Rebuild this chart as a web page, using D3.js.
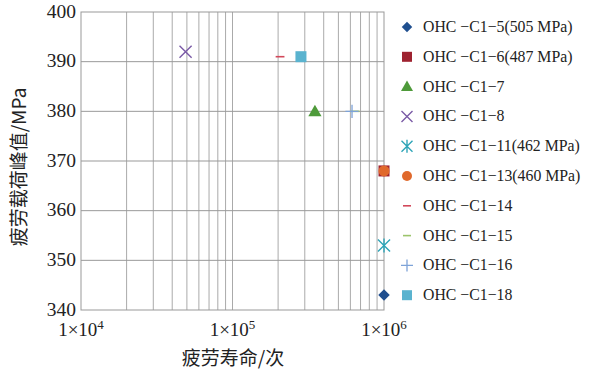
<!DOCTYPE html>
<html>
<head>
<meta charset="utf-8">
<script src="https://cdn.jsdelivr.net/npm/d3@7"></script>
<style>
  body { margin: 0; background: #fff; }
  svg { display: block; }
</style>
</head>
<body>
<svg width="589" height="372"></svg>
<script>
// specimens, fatigue life (cycles) and peak load (MPa)
var names = ["OHC \u2212C1\u22125(505 MPa)", "OHC \u2212C1\u22126(487 MPa)", "OHC \u2212C1\u22127",
             "OHC \u2212C1\u22128", "OHC \u2212C1\u221211(462 MPa)", "OHC \u2212C1\u221213(460 MPa)",
             "OHC \u2212C1\u221214", "OHC \u2212C1\u221215", "OHC \u2212C1\u221216", "OHC \u2212C1\u221218"];
var life = [1.0e6, 1.0e6, 3.5e5, 4.9e4, 1.0e6, 1.0e6, 2.06e5, 6.45e5, 6.15e5, 2.83e5];
var peak = [343, 368, 380, 392, 353, 368, 391, 380, 380, 391];
var shapes = ["diamond", "square", "triangle", "x", "asterisk", "circle", "dash", "dash", "plus", "square"];
var colors = ["#1f4f8f", "#9e2230", "#4e9a3a", "#7a5aa6", "#2ea5b8", "#e0692c", "#d2485a", "#9cc46b", "#7ea3d8", "#5ab3cf"];
var yTicks = [340, 350, 360, 370, 380, 390, 400];
var xTicks = [1e4, 1e5, 1e6];

var svg = d3.select("svg");
var pLeft = 81, pRight = 384, pTop = 12, pBottom = 310;

var x = d3.scaleLog().domain([1e4, 1e6]).range([pLeft, pRight]);
var y = d3.scaleLinear().domain([340, 400]).range([pBottom, pTop]);

var grid = svg.append("g");
var minor = [];
[1e4, 1e5].forEach(function (d) {
    for (var k = 2; k <= 9; k++) minor.push(d * k);
});
grid.selectAll("line.v")
    .data(minor.concat([1e5]))
    .enter().append("line")
    .attr("x1", function (d) { return x(d); })
    .attr("x2", function (d) { return x(d); })
    .attr("y1", pTop).attr("y2", pBottom)
    .attr("stroke", "#aaa").attr("stroke-width", 1);
grid.selectAll("line.h")
    .data(yTicks.slice(1, -1))
    .enter().append("line")
    .attr("x1", pLeft).attr("x2", pRight)
    .attr("y1", function (d) { return y(d); })
    .attr("y2", function (d) { return y(d); })
    .attr("stroke", "#999").attr("stroke-width", 1);
svg.append("rect")
    .attr("x", pLeft).attr("y", pTop)
    .attr("width", pRight - pLeft).attr("height", pBottom - pTop)
    .attr("fill", "none").attr("stroke", "#999").attr("stroke-width", 1);

// y tick labels
svg.selectAll("text.yt")
    .data(yTicks)
    .enter().append("text")
    .attr("x", pLeft - 5)
    .attr("y", function (d) { return y(d) + 5.5; })
    .attr("text-anchor", "end")
    .attr("font-family", "Liberation Serif, serif")
    .attr("font-size", 19.5)
    .attr("fill", "#222")
    .text(function (d) { return d; });

// x tick labels 1×10^n
var xt = svg.selectAll("text.xt")
    .data(xTicks)
    .enter().append("text")
    .attr("x", function (d) { return x(d); })
    .attr("y", 336)
    .attr("text-anchor", "middle")
    .attr("font-family", "Liberation Serif, serif")
    .attr("font-size", 19)
    .attr("fill", "#222");
xt.append("tspan").text("1\u00d710");
xt.append("tspan").attr("dy", -7).attr("font-size", 13)
    .text(function (d) { return Math.round(Math.log10(d)); });

// axis titles
svg.append("text")
    .attr("transform", "translate(26,167) rotate(-90)")
    .attr("text-anchor", "middle")
    .attr("font-family", "Noto Sans CJK SC, Liberation Serif, serif")
    .attr("font-size", 19)
    .attr("fill", "#222")
    .text("疲劳载荷峰值/MPa");
svg.append("text")
    .attr("x", 233).attr("y", 365)
    .attr("text-anchor", "middle")
    .attr("font-family", "Noto Sans CJK SC, Liberation Serif, serif")
    .attr("font-size", 19)
    .attr("fill", "#222")
    .text("疲劳寿命/次");

function drawMarker(g, shape, color, size) {
    var s = size;
    if (shape === "diamond") {
        g.append("rect").attr("x", -s * 0.37).attr("y", -s * 0.37).attr("width", s * 0.74).attr("height", s * 0.74)
            .attr("transform", "rotate(45)").attr("fill", color);
    } else if (shape === "square") {
        g.append("rect").attr("x", -s / 2).attr("y", -s / 2).attr("width", s).attr("height", s).attr("fill", color);
    } else if (shape === "triangle") {
        g.append("path").attr("d", "M0," + (-s * 0.6) + "L" + (s * 0.6) + "," + (s * 0.45) + "L" + (-s * 0.6) + "," + (s * 0.45) + "Z").attr("fill", color);
    } else if (shape === "circle") {
        g.append("circle").attr("r", s / 2).attr("fill", color);
    } else if (shape === "x") {
        var a = s * 0.55;
        g.append("path").attr("d", "M" + -a + "," + -a + "L" + a + "," + a + "M" + a + "," + -a + "L" + -a + "," + a)
            .attr("stroke", color).attr("stroke-width", 1.4).attr("fill", "none");
    } else if (shape === "asterisk") {
        var b = s * 0.55;
        g.append("path").attr("d", "M" + -b + "," + -b + "L" + b + "," + b + "M" + b + "," + -b + "L" + -b + "," + b + "M0," + (-b - 1) + "L0," + (b + 1))
            .attr("stroke", color).attr("stroke-width", 1.4).attr("fill", "none");
    } else if (shape === "plus") {
        var c = s * 0.6;
        g.append("path").attr("d", "M" + -c + ",0L" + c + ",0M0," + -c + "L0," + c)
            .attr("stroke", color).attr("stroke-width", 1.3).attr("fill", "none");
    } else if (shape === "dash") {
        g.append("path").attr("d", "M" + (-s * 0.4) + ",0L" + (s * 0.4) + ",0")
            .attr("stroke", color).attr("stroke-width", 1.6).attr("fill", "none");
    }
}

// points
var order = [0, 1, 5, 2, 3, 4, 6, 7, 8, 9];
order.forEach(function (i) {
    var g = svg.append("g").attr("transform", "translate(" + x(life[i]) + "," + y(peak[i]) + ")");
    drawMarker(g, shapes[i], colors[i], 11);
});

// legend
var leg = svg.append("g");
names.forEach(function (n, i) {
    var yy = 27 + i * 29.8;
    var g = leg.append("g").attr("transform", "translate(407," + yy + ")");
    drawMarker(g, shapes[i], colors[i], 10);
    leg.append("text")
        .attr("x", 423).attr("y", yy + 5)
        .attr("font-family", "Liberation Serif, serif")
        .attr("font-size", 15.8)
        .attr("fill", "#222")
        .text(n);
});
</script>
</body>
</html>
